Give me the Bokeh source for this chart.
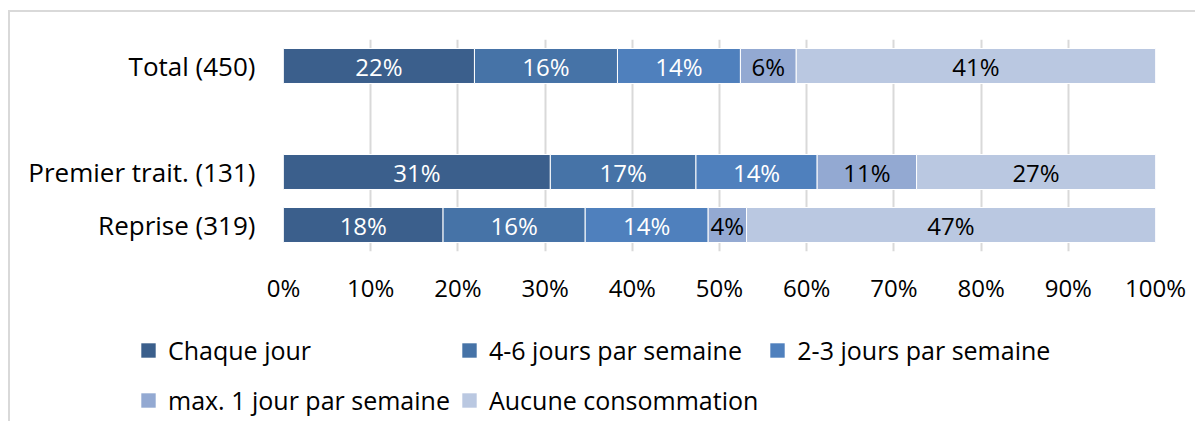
from bokeh.plotting import figure
from bokeh.layouts import column
from bokeh.models import ColumnDataSource, FactorRange, Range1d, Legend, LegendItem, FixedTicker
from bokeh.core.properties import value
from bokeh.embed import file_html
from bokeh.resources import INLINE

# ---- data ----
categories = ["Total (450)", "Premier trait. (131)", "Reprise (319)"]
series = ["Chaque jour", "4-6 jours par semaine", "2-3 jours par semaine",
          "max. 1 jour par semaine", "Aucune consommation"]
chaque_jour = [21.9, 30.6, 18.3]
jours_4_6 = [16.4, 16.7, 16.3]
jours_2_3 = [14.1, 13.9, 14.1]
max_1_jour = [6.4, 11.4, 4.4]
aucune = [41.2, 27.4, 46.9]
x_ticks = [0, 10, 20, 30, 40, 50, 60, 70, 80, 90, 100]
x_tick_labels = [f"{t}%" for t in x_ticks]

colors = ["#3B5F8C", "#4673A7", "#4F80BD", "#93A9D2", "#BAC8E1"]
label_colors = ["white", "white", "white", "black", "black"]
FONT = "Open Sans"
FS_NUM = "24px"
FS_TXT = "26px"
FS_LEG = "25px"

values = [chaque_jour, jours_4_6, jours_2_3, max_1_jour, aucune]
keys = [f"s{i}" for i in range(len(series))]
data = {"cat": categories}
for k, v in zip(keys, values):
    data[k] = v
source = ColumnDataSource(data)

factors = ["Reprise (319)", "Premier trait. (131)", " ", "Total (450)"]

p = figure(y_range=FactorRange(factors=factors, range_padding=0),
           x_range=Range1d(0, 100),
           frame_width=872, frame_height=212,
           min_border_left=273, min_border_right=40,
           min_border_top=27, min_border_bottom=60,
           output_backend="svg", toolbar_location=None)

renderers = p.hbar_stack(keys, y="cat", height=0.66, color=colors, source=source,
                         line_color="white", line_width=1)

# segment labels
left = [0.0] * len(categories)
for i, v in enumerate(values):
    centers = [l + x / 2 for l, x in zip(left, v)]
    texts = [f"{x:.0f}%" for x in v]
    p.text(x=centers, y=categories, text=texts, text_align="center",
           text_baseline="middle", text_color=label_colors[i],
           text_font=value(FONT), text_font_size=value(FS_NUM))
    left = [l + x for l, x in zip(left, v)]

# axes
p.xaxis.ticker = FixedTicker(ticks=x_ticks)
p.xaxis.major_label_overrides = {t: lab for t, lab in zip(x_ticks, x_tick_labels)}
p.xaxis.axis_line_color = None
p.xaxis.major_tick_line_color = None
p.xaxis.minor_tick_line_color = None
p.xaxis.major_tick_out = 0
p.xaxis.major_tick_in = 0
p.xaxis.major_label_standoff = 19
p.xaxis.major_label_text_font = FONT
p.xaxis.major_label_text_font_size = FS_NUM
p.xaxis.major_label_text_color = "black"

p.yaxis.axis_line_color = None
p.yaxis.major_tick_line_color = None
p.yaxis.minor_tick_line_color = None
p.yaxis.major_tick_out = 0
p.yaxis.major_tick_in = 0
p.yaxis.major_label_standoff = 28
p.yaxis.major_label_text_font = FONT
p.yaxis.major_label_text_font_size = FS_TXT
p.yaxis.major_label_text_color = "black"

p.xgrid.ticker = FixedTicker(ticks=x_ticks)
p.xgrid.grid_line_color = "#d9d9d9"
p.xgrid.grid_line_width = 2
p.ygrid.grid_line_color = None
p.outline_line_color = None

# ---- legend figure (below the chart) ----
lg = figure(y_range=FactorRange(factors=categories), x_range=Range1d(-1000, -900),
            frame_width=1185, frame_height=110,
            min_border_left=0, min_border_right=0, min_border_top=0, min_border_bottom=0,
            x_axis_type=None, y_axis_type=None,
            output_backend="svg", toolbar_location=None)
lg.xgrid.visible = False
lg.ygrid.visible = False
lg.outline_line_color = None
leg_renderers = lg.hbar_stack(keys, y="cat", height=0.66, color=colors, source=source,
                              line_color=None)

legend = Legend(items=[LegendItem(label=s, renderers=[r]) for s, r in zip(series, leg_renderers)],
                ncols=3, orientation="horizontal",
                location=(129, 1))
legend.glyph_width = 18
legend.glyph_height = 18
legend.label_height = 40
legend.label_standoff = 11
legend.spacing = 10
legend.padding = 0
legend.margin = 0
legend.border_line_color = None
legend.background_fill_alpha = 0
legend.label_text_font = FONT
legend.label_text_font_size = FS_LEG
legend.label_text_color = "black"
lg.add_layout(legend, "center")

layout = column(p, lg, spacing=0)
layout.styles = {"border-top": "2px solid #d9d9d9", "border-left": "2px solid #d9d9d9",
                 "margin-top": "10px", "margin-left": "8px"}

open("out.html", "w").write(file_html(layout, INLINE))
